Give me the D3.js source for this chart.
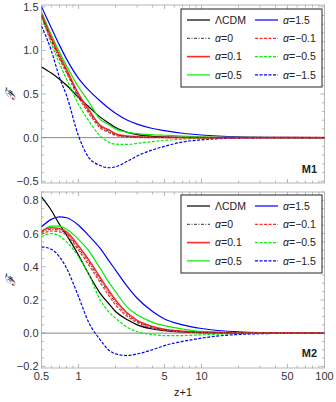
<!DOCTYPE html>
<html>
<head>
<meta charset="utf-8">
<script src="https://cdn.jsdelivr.net/npm/d3@7"></script>
<style>
  body { margin: 0; background: #fff; }
  text { font-family: "Liberation Sans", Arial, sans-serif; }
</style>
</head>
<body>
<div id="chart"></div>
<script>
// z+1 sample points shared by both panels
const zp1 = [0.5, 0.6, 0.7, 0.8, 1, 1.2, 1.5, 1.75, 2, 2.5, 3, 4, 5, 7, 10, 20, 50, 100];

// M1 panel
const lcdmM1 = [0.81, 0.74, 0.67, 0.6, 0.46, 0.36, 0.235, 0.17, 0.115, 0.06, 0.035, 0.015, 0.008, 0.003, 0.001, 0, 0, 0];
const a0M1 = [1.40, 1.13, 0.92, 0.76, 0.48, 0.31, 0.125, 0.075, 0.033, 0.012, 0.006, 0.003, 0.002, 0.001, 0, 0, 0, 0];
const ap01M1 = [1.42, 1.15, 0.94, 0.78, 0.50, 0.33, 0.14, 0.09, 0.045, 0.018, 0.01, 0.005, 0.003, 0.001, 0, 0, 0, 0];
const am01M1 = [1.38, 1.11, 0.90, 0.74, 0.46, 0.29, 0.11, 0.062, 0.025, 0.006, 0.002, 0, 0, 0, 0, 0, 0, 0];
const ap05M1 = [1.44, 1.18, 0.98, 0.82, 0.58, 0.42, 0.21, 0.15, 0.1, 0.06, 0.045, 0.033, 0.027, 0.018, 0.01, 0.003, 0, 0];
const ap15M1 = [1.50, 1.26, 1.06, 0.9, 0.68, 0.55, 0.42, 0.34, 0.28, 0.2, 0.155, 0.105, 0.08, 0.05, 0.03, 0.01, 0.002, 0];
const am05M1 = [1.40, 1.08, 0.85, 0.67, 0.38, 0.2, 0.02, -0.05, -0.075, -0.078, -0.065, -0.045, -0.032, -0.017, -0.008, -0.002, 0, 0];
const am15M1 = [1.28, 1.0, 0.69, 0.48, 0.02, -0.22, -0.32, -0.345, -0.335, -0.27, -0.21, -0.14, -0.10, -0.05, -0.025, -0.005, 0, 0];

// M2 panel
const lcdmM2 = [0.82, 0.74, 0.655, 0.59, 0.47, 0.36, 0.24, 0.18, 0.13, 0.08, 0.05, 0.025, 0.015, 0.007, 0.003, 0.001, 0, 0];
const a0M2 = [0.605, 0.625, 0.62, 0.60, 0.51, 0.43, 0.32, 0.245, 0.185, 0.11, 0.07, 0.035, 0.02, 0.01, 0.004, 0.001, 0, 0];
const ap01M2 = [0.615, 0.635, 0.63, 0.61, 0.525, 0.445, 0.335, 0.26, 0.2, 0.12, 0.077, 0.04, 0.023, 0.011, 0.005, 0.001, 0, 0];
const am01M2 = [0.595, 0.615, 0.61, 0.59, 0.50, 0.415, 0.305, 0.23, 0.17, 0.1, 0.063, 0.03, 0.017, 0.008, 0.003, 0.001, 0, 0];
const ap05M2 = [0.61, 0.645, 0.645, 0.625, 0.565, 0.50, 0.39, 0.31, 0.25, 0.155, 0.11, 0.065, 0.045, 0.025, 0.01, 0.003, 0, 0];
const ap15M2 = [0.64, 0.685, 0.70, 0.695, 0.65, 0.59, 0.51, 0.44, 0.38, 0.28, 0.21, 0.13, 0.085, 0.05, 0.028, 0.008, 0.001, 0];
const am05M2 = [0.58, 0.60, 0.585, 0.55, 0.46, 0.36, 0.2, 0.13, 0.09, 0.035, 0.008, -0.008, -0.015, -0.015, -0.01, -0.003, 0, 0];
const am15M2 = [0.52, 0.505, 0.46, 0.39, 0.22, 0.07, -0.04, -0.1, -0.125, -0.135, -0.125, -0.1, -0.075, -0.05, -0.03, -0.008, -0.001, 0];

const legendLabels = ["ΛCDM", "α=0", "α=0.1", "α=0.5", "α=1.5", "α=−0.1", "α=−0.5", "α=−1.5"];
const xTicksMajor = [0.5, 1, 5, 10, 50, 100];
const xTicksMinor = [0.6, 0.7, 0.8, 0.9, 2, 3, 4, 6, 7, 8, 9, 20, 30, 40, 60, 70, 80, 90];
const yTicksM1 = [-0.5, 0, 0.5, 1.0, 1.5];
const yTicksM2 = [-0.2, 0, 0.2, 0.4, 0.6, 0.8];

const w = 336;
const h = 402;

// line styles, same order as legendLabels
const styles = [
  { color: "#000", dash: null, width: 1.2 },
  { color: "#333", dash: "3,1.5,1,1.5", width: 1 },
  { color: "#ff2a2a", dash: null, width: 1.6 },
  { color: "#00ee00", dash: null, width: 1.2 },
  { color: "#0000ff", dash: null, width: 1.2 },
  { color: "#ff2a2a", dash: "3,1.5", width: 1.2 },
  { color: "#00ee00", dash: "3,1.5", width: 1.2 },
  { color: "#0000ff", dash: "3,1.5", width: 1.2 }
];

const panels = [
  {
    name: "M1", top: 5, bottom: 183, domain: [-0.52, 1.52], ticks: yTicksM1, minorStep: 0.1,
    fmt: d3.format(".1f"),
    series: [lcdmM1, a0M1, ap01M1, ap05M1, ap15M1, am01M1, am05M1, am15M1],
    legendY: 9, labelY: 173
  },
  {
    name: "M2", top: 192, bottom: 368, domain: [-0.21, 0.85], ticks: yTicksM2, minorStep: 0.05,
    fmt: d3.format(".1f"),
    series: [lcdmM2, a0M2, ap01M2, ap05M2, ap15M2, am01M2, am05M2, am15M2],
    legendY: 195, labelY: 357
  }
];

const xScale = d3.scaleLog().domain([0.5, 100]).range([41.5, 324.5]);

const svg = d3.select("#chart").append("svg").attr("width", w).attr("height", h);

const minus = (s) => s.replace("-", "−");

panels.forEach((p, pi) => {
  const yScale = d3.scaleLinear().domain(p.domain).range([p.bottom, p.top]);
  const g = svg.append("g");
  const x0 = xScale.range()[0];
  const x1 = xScale.range()[1];

  g.append("clipPath").attr("id", "clip" + pi)
    .append("rect").attr("x", x0).attr("y", p.top).attr("width", x1 - x0).attr("height", p.bottom - p.top);

  // frame
  g.append("rect")
    .attr("x", x0).attr("y", p.top)
    .attr("width", x1 - x0).attr("height", p.bottom - p.top)
    .attr("fill", "none").attr("stroke", "#b5b5b5").attr("stroke-width", 1);

  // x frame ticks (bottom and top)
  const xt = xTicksMajor.map((v) => ({ v, len: 4 })).concat(xTicksMinor.map((v) => ({ v, len: 2.5 })));
  xt.forEach((t) => {
    const px = xScale(t.v);
    g.append("line").attr("x1", px).attr("x2", px).attr("y1", p.bottom).attr("y2", p.bottom - t.len)
      .attr("stroke", "#b5b5b5");
    g.append("line").attr("x1", px).attr("x2", px).attr("y1", p.top).attr("y2", p.top + t.len)
      .attr("stroke", "#b5b5b5");
  });

  // y frame ticks (left and right)
  const minors = d3.range(Math.ceil(p.domain[0] / p.minorStep), Math.floor(p.domain[1] / p.minorStep) + 1)
    .map((k) => k * p.minorStep);
  minors.forEach((v) => {
    const major = p.ticks.some((t) => Math.abs(t - v) < 1e-6);
    const len = major ? 4 : 2.5;
    const py = yScale(v);
    g.append("line").attr("x1", x0).attr("x2", x0 + len).attr("y1", py).attr("y2", py).attr("stroke", "#b5b5b5");
    g.append("line").attr("x1", x1).attr("x2", x1 - len).attr("y1", py).attr("y2", py).attr("stroke", "#b5b5b5");
  });

  // y tick labels
  g.selectAll(".ylab")
    .data(p.ticks)
    .enter()
    .append("text")
    .attr("x", x0 - 3)
    .attr("y", (d) => yScale(d) + 4)
    .attr("text-anchor", "end")
    .attr("font-size", 11)
    .attr("fill", "#333")
    .text((d) => minus(p.fmt(d)));

  // zero line
  g.append("line")
    .attr("x1", x0).attr("x2", x1)
    .attr("y1", yScale(0)).attr("y2", yScale(0))
    .attr("stroke", "#888").attr("stroke-width", 1);

  // curves
  const line = d3.line()
    .x((d) => xScale(d[0]))
    .y((d) => yScale(d[1]))
    .curve(d3.curveMonotoneX);

  const drawOrder = [0, 4, 3, 6, 7, 2, 5, 1];
  drawOrder.forEach((si) => {
    const s = styles[si];
    g.append("path")
      .datum(zp1.map((z, i) => [z, p.series[si][i]]))
      .attr("clip-path", `url(#clip${pi})`)
      .attr("d", line)
      .attr("fill", "none")
      .attr("stroke", s.color)
      .attr("stroke-width", s.width)
      .attr("stroke-dasharray", s.dash);
  });

  // legend
  const lg = g.append("g").attr("transform", `translate(181, ${p.legendY})`);
  lg.append("rect").attr("width", 141).attr("height", 78)
    .attr("fill", "#fff").attr("stroke", "#222").attr("stroke-width", 1);
  legendLabels.forEach((lab, i) => {
    const col = Math.floor(i / 4);
    const row = i % 4;
    const lx = col === 0 ? 6 : 74;
    const ly = 11 + row * 18.3;
    const s = styles[i];
    lg.append("line")
      .attr("x1", lx).attr("x2", lx + 23).attr("y1", ly).attr("y2", ly)
      .attr("stroke", s.color).attr("stroke-width", s.width)
      .attr("stroke-dasharray", s.dash);
    const t = lg.append("text").attr("x", lx + 28).attr("y", ly + 3.8)
      .attr("font-size", 10.5).attr("fill", "#222");
    if (lab.startsWith("α")) {
      t.append("tspan").attr("font-style", "italic").text("α");
      t.append("tspan").text(lab.slice(1));
    } else {
      t.text(lab);
    }
  });

  // panel label
  g.append("text")
    .attr("x", 317).attr("y", p.labelY)
    .attr("text-anchor", "end")
    .attr("font-size", 11).attr("font-weight", "bold")
    .attr("fill", "#222")
    .text(p.name);

  // y axis title
  g.append("text")
    .attr("transform", `translate(15, ${(p.top + p.bottom) / 2}) rotate(-90)`)
    .attr("text-anchor", "middle")
    .attr("font-size", 13)
    .attr("font-style", "italic")
    .attr("font-family", "DejaVu Serif, serif")
    .attr("fill", "#222")
    .text("ℱ");

  // x tick labels only on the lower panel
  if (pi === 1) {
    g.selectAll(".xlab")
      .data(xTicksMajor)
      .enter()
      .append("text")
      .attr("x", (d) => xScale(d))
      .attr("y", p.bottom + 12)
      .attr("text-anchor", "middle")
      .attr("font-size", 11)
      .attr("fill", "#333")
      .text((d) => d);
  }
});

// x axis title
svg.append("text")
  .attr("x", 183).attr("y", 396)
  .attr("text-anchor", "middle")
  .attr("font-size", 11)
  .attr("fill", "#222")
  .text("z+1");
</script>
</body>
</html>
